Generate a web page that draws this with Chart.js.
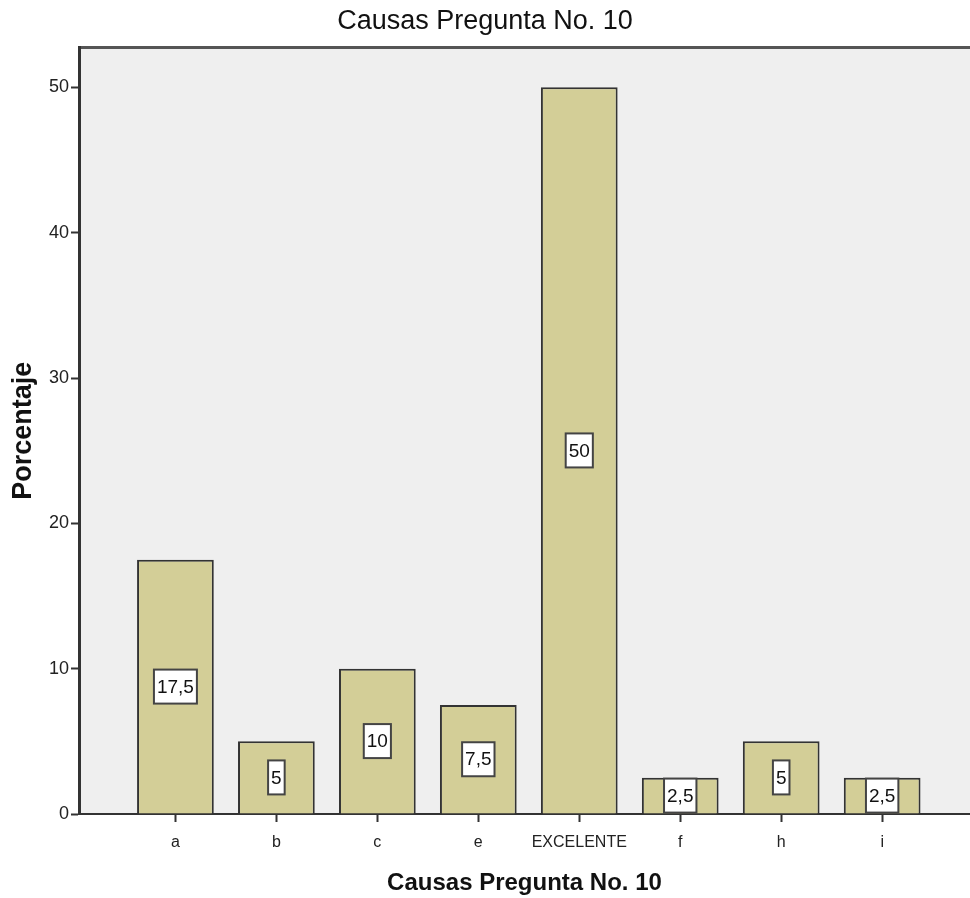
<!DOCTYPE html>
<html>
<head>
<meta charset="utf-8">
<script src="https://cdn.jsdelivr.net/npm/chart.js@4.4.1/dist/chart.umd.min.js"></script>
<style>
  html, body { margin: 0; padding: 0; background: #ffffff; }
  #wrap { width: 970px; height: 898px; }
</style>
</head>
<body>
<div id="wrap"><canvas id="c" width="970" height="898"></canvas></div>
<script>
// Categories and percentages per cause
const categories = ['a', 'b', 'c', 'e', 'EXCELENTE', 'f', 'h', 'i'];
const porcentajes = [17.5, 5, 10, 7.5, 50, 2.5, 5, 2.5];
const yTickValues = [0, 10, 20, 30, 40, 50];
const chartTitle = 'Causas Pregunta No. 10';
const xAxisTitle = 'Causas Pregunta No. 10';
const yAxisTitle = 'Porcentaje';

const SANS = "'Liberation Sans', Arial, sans-serif";

const AXIS_COLOR = '#333333';
const BAR_FILL = '#d3ce97';
const PLOT_BG = '#efefef';

// Grey plot panel with a top frame line
const panelPlugin = {
  id: 'panel',
  beforeDraw(chart) {
    const { ctx, chartArea: a } = chart;
    ctx.save();
    ctx.fillStyle = PLOT_BG;
    ctx.fillRect(a.left, a.top, a.right - a.left, a.bottom - a.top);
    ctx.strokeStyle = '#555555';
    ctx.lineWidth = 3;
    ctx.beginPath();
    ctx.moveTo(a.left, a.top);
    ctx.lineTo(a.right, a.top);
    ctx.stroke();
    ctx.restore();
  }
};

// Boxed value labels centred inside each bar
const valueBoxPlugin = {
  id: 'valueBoxes',
  afterDatasetsDraw(chart) {
    const { ctx } = chart;
    const meta = chart.getDatasetMeta(0);
    ctx.save();
    ctx.font = '19px ' + SANS;
    ctx.textAlign = 'center';
    ctx.textBaseline = 'middle';
    meta.data.forEach((bar, i) => {
      const text = String(porcentajes[i]).replace('.', ',');
      const cy = (bar.y + bar.base) / 2;
      const w = ctx.measureText(text).width + 6;
      const h = 34;
      ctx.fillStyle = '#ffffff';
      ctx.fillRect(bar.x - w / 2, cy - h / 2, w, h);
      ctx.strokeStyle = '#444444';
      ctx.lineWidth = 2;
      ctx.strokeRect(bar.x - w / 2, cy - h / 2, w, h);
      ctx.fillStyle = '#111111';
      ctx.fillText(text, bar.x, cy + 1);
    });
    ctx.restore();
  }
};

const points = categories.map((c, i) => ({ x: i, y: porcentajes[i] }));

new Chart(document.getElementById('c'), {
  type: 'bar',
  data: {
    datasets: [{
      data: points,
      backgroundColor: BAR_FILL,
      borderColor: AXIS_COLOR,
      borderWidth: 2,
      categoryPercentage: 1,
      barPercentage: 0.76
    }]
  },
  options: {
    responsive: false,
    animation: false,
    devicePixelRatio: 1,
    layout: { padding: 0 },
    plugins: {
      legend: { display: false },
      tooltip: { enabled: false },
      title: {
        display: true,
        text: chartTitle,
        color: '#111111',
        font: { family: SANS, size: 27, weight: 'normal' },
        padding: { top: 5, bottom: 10 }
      }
    },
    scales: {
      x: {
        type: 'linear',
        min: -0.955,
        max: 7.87,
        offset: false,
        afterFit(scale) { scale.height = 84; },
        afterBuildTicks(scale) {
          scale.ticks = categories.map((c, i) => ({ value: i }));
        },
        ticks: {
          autoSkip: false,
          maxRotation: 0,
          color: '#222222',
          font: { family: SANS, size: 16 },
          padding: 11,
          callback: (v) => categories[v]
        },
        grid: {
          offset: false,
          drawOnChartArea: false,
          drawTicks: true,
          tickLength: 8,
          tickWidth: 2,
          tickColor: AXIS_COLOR
        },
        border: { display: true, color: AXIS_COLOR, width: 2 },
        title: {
          display: true,
          text: xAxisTitle,
          color: '#111111',
          font: { family: SANS, size: 24, weight: 'bold' },
          padding: { top: 0, bottom: 0 }
        }
      },
      y: {
        type: 'linear',
        min: 0,
        max: 52.75,
        afterFit(scale) { scale.width = 79; },
        afterBuildTicks(scale) {
          scale.ticks = yTickValues.map(v => ({ value: v }));
        },
        ticks: {
          color: '#222222',
          font: { family: SANS, size: 18 },
          padding: 2
        },
        grid: {
          drawOnChartArea: false,
          drawTicks: true,
          tickLength: 8,
          tickWidth: 2,
          tickColor: AXIS_COLOR
        },
        border: { display: true, color: AXIS_COLOR, width: 3 },
        title: {
          display: true,
          text: yAxisTitle,
          color: '#111111',
          font: { family: SANS, size: 27, weight: 'bold' },
          padding: { top: 7, bottom: 4 }
        }
      }
    }
  },
  plugins: [panelPlugin, valueBoxPlugin]
});
</script>
</body>
</html>
